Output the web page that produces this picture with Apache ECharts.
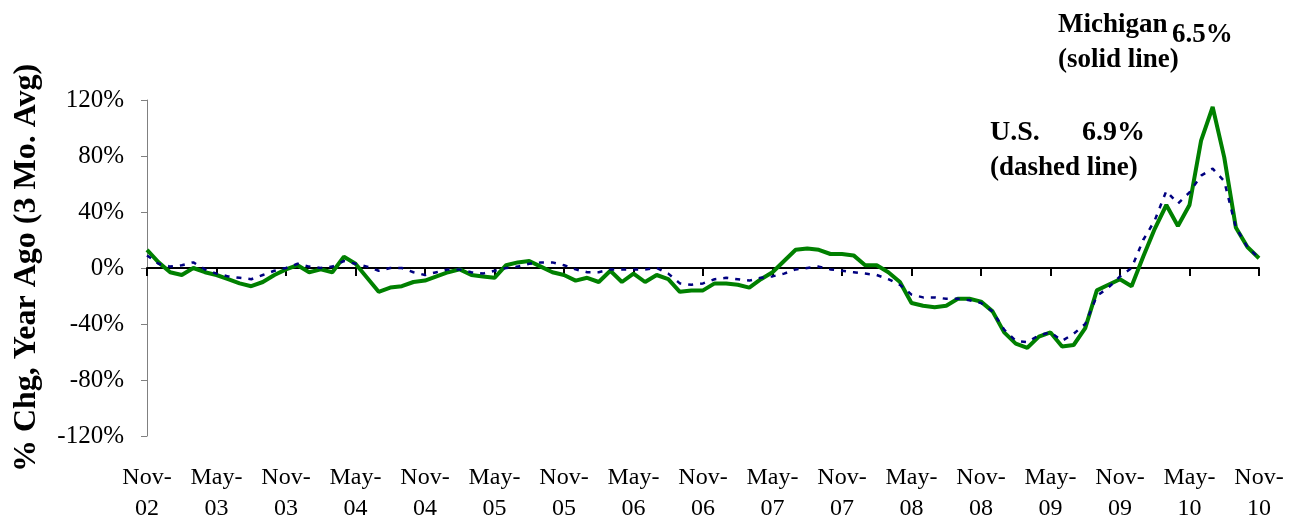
<!DOCTYPE html>
<html>
<head>
<meta charset="utf-8">
<script src="https://cdn.jsdelivr.net/npm/echarts@6/dist/echarts.min.js"></script>
<style>
html,body{margin:0;padding:0;background:#fff;}
#chart{width:1290px;height:523px;}
</style>
</head>
<body>
<div id="chart"></div>
<script>
const categories = [
"Nov-02","Dec-02","Jan-03","Feb-03","Mar-03","Apr-03","May-03","Jun-03","Jul-03","Aug-03","Sep-03","Oct-03",
"Nov-03","Dec-03","Jan-04","Feb-04","Mar-04","Apr-04","May-04","Jun-04","Jul-04","Aug-04","Sep-04","Oct-04",
"Nov-04","Dec-04","Jan-05","Feb-05","Mar-05","Apr-05","May-05","Jun-05","Jul-05","Aug-05","Sep-05","Oct-05",
"Nov-05","Dec-05","Jan-06","Feb-06","Mar-06","Apr-06","May-06","Jun-06","Jul-06","Aug-06","Sep-06","Oct-06",
"Nov-06","Dec-06","Jan-07","Feb-07","Mar-07","Apr-07","May-07","Jun-07","Jul-07","Aug-07","Sep-07","Oct-07",
"Nov-07","Dec-07","Jan-08","Feb-08","Mar-08","Apr-08","May-08","Jun-08","Jul-08","Aug-08","Sep-08","Oct-08",
"Nov-08","Dec-08","Jan-09","Feb-09","Mar-09","Apr-09","May-09","Jun-09","Jul-09","Aug-09","Sep-09","Oct-09",
"Nov-09","Dec-09","Jan-10","Feb-10","Mar-10","Apr-10","May-10","Jun-10","Jul-10","Aug-10","Sep-10","Oct-10",
"Nov-10"
];

const michigan = [
13, 4, -3, -5, 0, -3, -5, -8, -11, -13, -10, -5,
-1, 2, -3, -1, -3, 8, 3, -7, -17, -14, -13, -10,
-9, -6, -3, -1, -5, -6, -7, 2, 4, 5, 1, -3,
-5, -9, -7, -10, -2, -10, -4, -10, -5, -8, -17, -16,
-16, -11, -11, -12, -14, -8, -3, 5, 13, 14, 13, 10,
10, 9, 2, 2, -3, -10, -25, -27, -28, -27, -22, -22,
-24, -31, -46, -54, -57, -49, -46, -56, -55, -43, -16, -12,
-8, -13, 8, 28, 45, 30, 45, 91, 115, 79, 29, 15,
7
];

const us = [
9, 3, 1, 2, 4, -1, -4, -6, -7, -8, -5, -2,
0, 3, 1, 0, 1, 5, 3, 1, -2, 0, 0, -3,
-5, -3, -1, -1, -3, -4, -2, 0, 1, 3, 4, 4,
2, -1, -3, -3, -1, -1, -1, -1, 0, -4, -11, -12,
-11, -8, -7, -8, -9, -7, -6, -4, -1, 0, 1, -1,
-2, -3, -4, -5, -8, -12, -19, -21, -21, -22, -22, -23,
-25, -31, -44, -52, -53, -48, -46, -52, -47, -40, -20, -14,
-6, 0, 20, 34, 55, 46, 54, 66, 71, 62, 29, 15,
7
];

const yTicks = { min: -120, max: 120, interval: 40 };

const serif = "'Liberation Serif', 'Times New Roman', serif";
const chart = echarts.init(document.getElementById('chart'));
chart.setOption({
  animation: false,
  backgroundColor: '#ffffff',
  grid: { left: 147, right: 31, top: 100, bottom: 87, containLabel: false, outerBoundsMode: 'none' },
  xAxis: [
    {
      type: 'category',
      data: categories,
      boundaryGap: false,
      axisLine: { onZero: true, lineStyle: { color: '#000', width: 2 } },
      axisTick: { show: true, inside: false, length: 8, interval: 5, lineStyle: { color: '#000', width: 2 } },
      axisLabel: { show: false },
      splitLine: { show: false }
    },
    {
      type: 'category',
      data: categories,
      position: 'bottom',
      boundaryGap: false,
      axisLine: { show: false, onZero: false },
      axisTick: { show: false },
      axisLabel: {
        interval: 5,
        margin: 26,
        color: '#000',
        fontFamily: serif,
        fontSize: 24,
        lineHeight: 31,
        formatter: v => v.replace('-', '-\n')
      },
      splitLine: { show: false }
    }
  ],
  yAxis: {
    type: 'value',
    min: yTicks.min, max: yTicks.max, interval: yTicks.interval,
    name: '% Chg, Year Ago (3 Mo. Avg)',
    nameLocation: 'middle',
    nameGap: 104,
    nameRotate: 90,
    nameTextStyle: { fontFamily: serif, fontSize: 32, fontWeight: 'bold', color: '#000' },
    axisLine: { show: true, lineStyle: { color: '#808080', width: 1 } },
    axisTick: { show: true, inside: false, length: 6, lineStyle: { color: '#808080', width: 1 } },
    axisLabel: { color: '#000', fontFamily: serif, fontSize: 25, margin: 23, formatter: '{value}%' },
    splitLine: { show: false }
  },
  series: [
    {
      name: 'Michigan', type: 'line', data: michigan, symbol: 'none', xAxisIndex: 0,
      lineStyle: { color: '#008000', width: 4 }, z: 2
    },
    {
      name: 'U.S.', type: 'line', data: us, symbol: 'none', xAxisIndex: 0,
      lineStyle: { color: '#000080', width: 2.5, type: [5, 7] }, z: 3
    }
  ],
  graphic: [
    { type: 'text', left: 1058, top: 12, style: { text: 'Michigan', font: "bold 27px " + serif, fill: '#000' } },
    { type: 'text', left: 1172, top: 22, style: { text: '6.5%', font: "bold 27px " + serif, fill: '#000' } },
    { type: 'text', left: 1058, top: 47, style: { text: '(solid line)', font: "bold 27px " + serif, fill: '#000' } },
    { type: 'text', left: 990, top: 119, style: { text: 'U.S.', font: "bold 28px " + serif, fill: '#000' } },
    { type: 'text', left: 1082, top: 119, style: { text: '6.9%', font: "bold 28px " + serif, fill: '#000' } },
    { type: 'text', left: 990, top: 155, style: { text: '(dashed line)', font: "bold 27px " + serif, fill: '#000' } }
  ]
});
</script>
</body>
</html>
